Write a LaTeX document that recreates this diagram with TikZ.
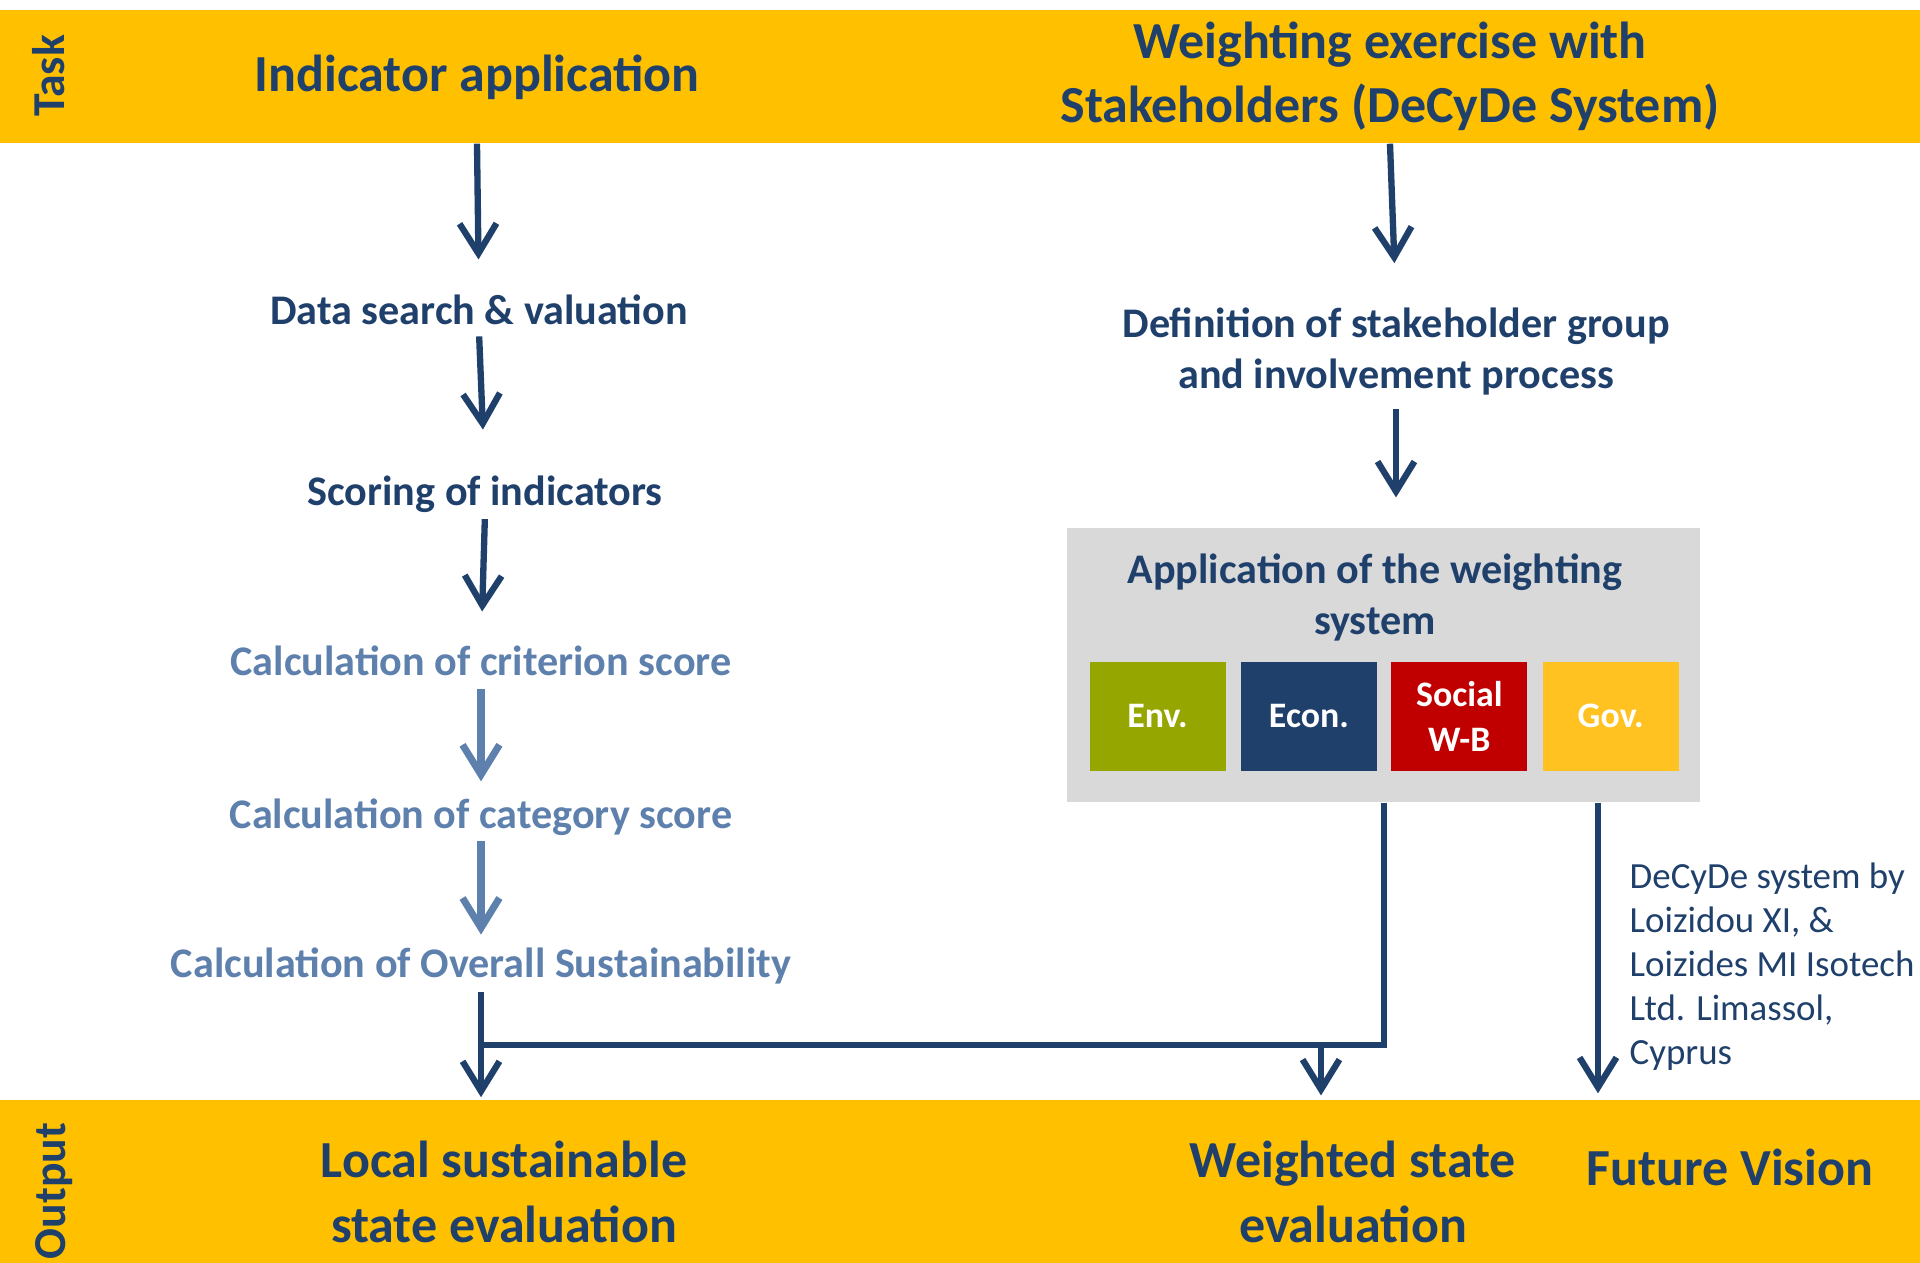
\documentclass[tikz,border=0pt]{standalone}
\usepackage{fontspec}
\setmainfont{Carlito}
\definecolor{amber}{RGB}{255,192,0}
\definecolor{navy}{RGB}{32,64,108}
\definecolor{steel}{RGB}{94,128,173}
\definecolor{ashgrey}{RGB}{217,217,217}
\definecolor{envgreen}{RGB}{150,166,0}
\definecolor{socred}{RGB}{192,0,0}
\definecolor{govgold}{RGB}{255,194,32}
\usetikzlibrary{arrows.meta,positioning}

\begin{document}
\begin{tikzpicture}[x=0.1mm,y=-0.1mm,>={Straight Barb[length=8.5pt,width=10.5pt]},
	band/.style={fill=amber,inner sep=0pt,minimum width=192mm},
	title/.style={text=navy,font=\fontsize{14.8}{18.3}\selectfont\bfseries,align=center,inner sep=0pt},
	side/.style={text=navy,font=\fontsize{13}{15}\selectfont\bfseries,rotate=90,inner sep=0pt},
	stage/.style={text=navy,font=\fontsize{12}{14.5}\selectfont\bfseries,align=center,inner sep=0pt},
	calcstage/.style={stage,text=steel,text height=0.7em,text depth=0.2em},
	pillar/.style={minimum width=13.6mm,minimum height=10.9mm,inner sep=0pt,text=white,align=center,
		font=\fontsize{10.2}{12.8}\selectfont\bfseries},
	flow/.style={->,draw=navy,line width=1.8pt},
	lightflow/.style={->,draw=steel,line width=2pt}]
	\useasboundingbox (0,0) rectangle (1920,1262);

	% task and output bands
	\node[band,minimum height=13.3mm] (taskband) at (960,76.5) {};
	\node[band,minimum height=17mm] (outband) at (960,1185) {};
	\node[side] (task) at (49,76) {Task};
	\node[side] (output) at (54,1191) {Output};
	\node[title] (indApp) at (477,77) {Indicator application};
	\node[title] (weightEx) at (1390,76) {Weighting exercise with\\Stakeholders (DeCyDe System)};
	\node[title] (localEval) at (504,1192) {Local sustainable\\state evaluation};
	\node[title] (weightedEval) at (1353,1192) {Weighted state\\evaluation};
	\node[title] (future) at (1730,1167) {Future Vision};

	% indicator side
	\node[stage,text height=0.7em,text depth=0.2em] (dataSearch) at (479,316) {Data search \& valuation};
	\node[stage,text height=0.7em,text depth=0.2em] (scoring) at (485,497) {Scoring of indicators};
	\node[calcstage] (critScore) at (481,667) {Calculation of criterion score};
	\node[calcstage] (catScore) at (481,820) {Calculation of category score};
	\node[calcstage] (overall) at (481,969) {Calculation of Overall Sustainability};

	% weighting side
	\node[stage] (defStake) at (1396,351) {Definition of stakeholder group\\and involvement process};
	\node[fill=ashgrey,minimum width=63.3mm,minimum height=27.4mm,inner sep=0pt] (weightSys) at (1383.5,665) {};
	\node[stage] (sysTitle) at (1375,597) {Application of the weighting\\system};
	\node[pillar,fill=envgreen] (env) at (1157.5,716) {Env.};
	\node[pillar,fill=navy,right=1.4mm of env] (econ) {Econ.};
	\node[pillar,fill=socred,right=1.3mm of econ] (social) {Social\\W-B};
	\node[pillar,fill=govgold,right=1.4mm of social] (gov) {Gov.};
	\node[text=navy,align=left,anchor=north west,inner sep=0pt,font=\fontsize{10.5}{12.5}\selectfont] (credit) at (1629,862)
		{DeCyDe system by\\Loizidou XI, \&\\Loizides MI Isotech\\Ltd. Limassol,\\Cyprus};

	\coordinate (join) at (1384,1045);
	\coordinate (wIn) at (1321,1045);
	\coordinate (vIn) at (1598,1045);

	% arrows
	\draw[flow,shorten >=11.4pt] (indApp |- taskband.south) -- (dataSearch.north);
	\draw[flow,shorten <=1.1pt,shorten >=14.5pt] (dataSearch.south) -- (scoring.north);
	\draw[flow,shorten <=1.6pt,shorten >=11.1pt] (scoring.south) -- (critScore.north);
	\draw[lightflow,shorten <=1.5pt,shorten >=6.3pt] (critScore.south) -- (catScore.north);
	\draw[lightflow,shorten <=1.2pt,shorten >=5.1pt] (catScore.south) -- (overall.north);
	\draw[flow,shorten <=1.7pt,shorten >=0.6pt] (overall.south) -- (overall.south |- outband.north);
	\draw[flow,shorten >=12.4pt] (weightEx |- taskband.south) -- (defStake.north);
	\draw[flow,shorten <=4pt,shorten >=8.5pt] (defStake.south) -- (weightSys.north -| defStake.south);
	\draw[navy,line width=1.8pt] (weightSys.south -| join) -- (join) -- (overall.south |- join);
	\draw[flow,shorten >=1.1pt] (wIn) -- (wIn |- outband.north);
	\draw[flow,shorten >=1.7pt] (weightSys.south -| vIn) -- (vIn |- outband.north);
\end{tikzpicture}
\end{document}
